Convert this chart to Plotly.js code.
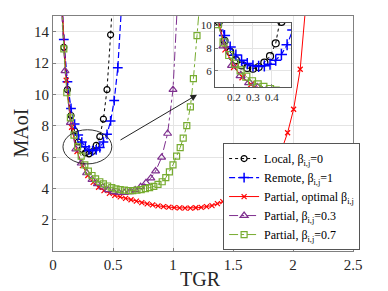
<!DOCTYPE html>
<html><head><meta charset="utf-8">
<script src="https://cdn.plot.ly/plotly-3.0.1.min.js"></script>
<style>html,body{margin:0;padding:0;background:#fff}#chart{width:388px;height:291px}</style>
</head><body><div id="chart"></div>
<script>
// Local, beta=0
const xLocal = [0.06, 0.09, 0.12, 0.15, 0.18, 0.21, 0.24, 0.27, 0.30, 0.33, 0.36, 0.39, 0.42, 0.45, 0.48, 0.51];
const yLocal = [18.5, 13.0, 10.3, 8.65, 7.67, 6.96, 6.49, 6.26, 6.2, 6.35, 6.74, 7.3, 8.42, 10.3, 13.8, 18.0];
// Remote, beta=1
const xRemote = [0.06, 0.09, 0.12, 0.15, 0.18, 0.21, 0.24, 0.27, 0.30, 0.33, 0.36, 0.39, 0.42, 0.45, 0.48, 0.51, 0.54, 0.57];
const yRemote = [19.0, 13.5, 10.8, 9.1, 8.1, 7.4, 6.95, 6.65, 6.45, 6.4, 6.45, 6.6, 6.95, 7.45, 8.3, 9.6, 11.7, 15.5];
// Partial, optimal beta
const xOpt = [0.07, 0.11, 0.155, 0.20, 0.245, 0.29, 0.335, 0.38, 0.425, 0.47, 0.515, 0.56, 0.605, 0.65, 0.695, 0.74, 0.785, 0.83, 0.875, 0.92, 0.965, 1.01, 1.055, 1.10, 1.145, 1.19, 1.235, 1.28, 1.325, 1.37, 1.415, 1.46, 1.505, 1.55, 1.595, 1.64, 1.685, 1.73, 1.775, 1.82, 1.86, 1.905, 1.955, 2.005, 2.06, 2.11];
const yOpt = [16.5, 10.9, 7.9, 6.35, 5.45, 4.82, 4.38, 4.07, 3.85, 3.68, 3.55, 3.45, 3.36, 3.27, 3.18, 3.09, 3.01, 2.94, 2.88, 2.83, 2.8, 2.77, 2.75, 2.74, 2.74, 2.76, 2.78, 2.83, 2.9, 3.02, 3.15, 3.3, 3.48, 3.7, 3.95, 4.22, 4.52, 4.87, 5.25, 5.6, 5.98, 6.45, 7.55, 9.05, 11.6, 16.0];
// Partial, beta=0.3
const xP3 = [0.055, 0.10, 0.145, 0.19, 0.235, 0.28, 0.325, 0.37, 0.415, 0.46, 0.505, 0.55, 0.595, 0.64, 0.685, 0.73, 0.775, 0.815, 0.855, 0.905, 0.955, 1.0, 1.045];
const yP3 = [17.5, 11.5, 8.2, 6.5, 5.6, 4.98, 4.55, 4.28, 4.07, 3.9, 3.78, 3.72, 3.72, 3.78, 3.9, 4.1, 4.35, 4.65, 5.1, 5.97, 7.5, 10.3, 17.0];
// Partial, beta=0.7
const xP7 = [0.06, 0.09, 0.115, 0.145, 0.175, 0.205, 0.235, 0.265, 0.295, 0.325, 0.355, 0.39, 0.42, 0.455, 0.49, 0.525, 0.56, 0.595, 0.63, 0.665, 0.70, 0.735, 0.77, 0.805, 0.84, 0.875, 0.91, 0.94, 0.97, 1.0, 1.03, 1.06, 1.085, 1.115, 1.145, 1.17, 1.20, 1.23];
const yP7 = [18.0, 12.9, 10.1, 8.5, 7.4, 6.65, 6.05, 5.5, 5.1, 4.82, 4.6, 4.42, 4.28, 4.15, 4.05, 3.97, 3.92, 3.88, 3.86, 3.86, 3.88, 3.92, 3.98, 4.05, 4.12, 4.25, 4.42, 4.68, 5.05, 5.5, 6.05, 6.6, 7.2, 8.0, 9.2, 11.0, 13.75, 16.5];

const names = ['Local, β<sub>i,j</sub>=0', 'Remote, β<sub>i,j</sub>=1', 'Partial, optimal β<sub>i,j</sub>', 'Partial, β<sub>i,j</sub>=0.3', 'Partial, β<sub>i,j</sub>=0.7'];
const xTicks = [0, 0.5, 1, 1.5, 2, 2.5];
const yTicks = [2, 4, 6, 8, 10, 12, 14];
const xTicksInset = [0.2, 0.3, 0.4];
const yTicksInset = [6, 8, 10];
const xTitle = 'TGR';
const yTitle = 'MAoI';

const SERIF = 'Liberation Serif';
const styles = [
  {x: xLocal, y: yLocal, line: {color: '#000000', dash: 'dot', width: 1}, marker: {symbol: 'circle-open', size: 6, color: '#000000', line: {width: 1.2}}},
  {x: xRemote, y: yRemote, line: {color: '#0000ff', dash: '6px,3px', width: 1.2}, marker: {symbol: 'cross-thin-open', size: 7, color: '#0000ff', line: {width: 1.5, color: '#0000ff'}}},
  {x: xOpt, y: yOpt, line: {color: '#ff0000', dash: 'solid', width: 1}, marker: {symbol: 'x-thin-open', size: 5, color: '#ff0000', line: {width: 1.2, color: '#ff0000'}}},
  {x: xP3, y: yP3, line: {color: '#7E2F8E', dash: 'dashdot', width: 1}, marker: {symbol: 'triangle-up-open', size: 7, color: '#7E2F8E', line: {width: 1.2}}},
  {x: xP7, y: yP7, line: {color: '#77AC30', dash: 'dashdot', width: 1}, marker: {symbol: 'square-open', size: 6, color: '#77AC30', line: {width: 1.2}}}
];
const data = [];
styles.forEach((s, i) => {
  data.push({type: 'scatter', mode: 'lines+markers', x: s.x, y: s.y, name: names[i], line: s.line, marker: s.marker, xaxis: 'x', yaxis: 'y'});
});
styles.forEach((s, i) => {
  data.push({type: 'scatter', mode: 'lines+markers', x: s.x, y: s.y, name: names[i], showlegend: false, line: s.line, marker: Object.assign({}, s.marker, {size: s.marker.size + 1}), xaxis: 'x2', yaxis: 'y2'});
});

const axCommon = {showline: true, mirror: true, linecolor: '#808080', linewidth: 1, ticks: 'inside', ticklen: 3, tickcolor: '#808080', zeroline: false, showgrid: true, gridcolor: '#e4e4e4', gridwidth: 1, automargin: false};
const layout = {
  width: 388, height: 291,
  margin: {l: 53, r: 35, t: 16, b: 40},
  paper_bgcolor: '#ffffff', plot_bgcolor: '#ffffff',
  font: {family: SERIF, size: 14, color: '#262626'},
  showlegend: true,
  xaxis: Object.assign({}, axCommon, {range: [0, 2.5], tickvals: xTicks, tickfont: {family: SERIF, size: 15, color: '#262626'}}),
  yaxis: Object.assign({}, axCommon, {range: [0, 15], tickvals: yTicks, tickfont: {family: SERIF, size: 15, color: '#262626'}}),
  xaxis2: Object.assign({}, axCommon, {domain: [0.54, 0.793], anchor: 'y2', range: [0.1, 0.5], tickvals: xTicksInset, linecolor: '#555555', tickfont: {family: SERIF, size: 11, color: '#262626'}}),
  yaxis2: Object.assign({}, axCommon, {domain: [0.698, 0.970], anchor: 'x2', range: [4.6, 10.2], tickvals: yTicksInset, linecolor: '#555555', tickfont: {family: SERIF, size: 11, color: '#262626'}}),
  legend: {x: 0.567, y: 0.004, xanchor: 'left', yanchor: 'bottom', bgcolor: '#ffffff', bordercolor: '#555555', borderwidth: 1, font: {family: SERIF, size: 12, color: '#000000'}, tracegroupgap: 0, itemwidth: 30},
  shapes: [
    {type: 'rect', xref: 'x2 domain', yref: 'y2 domain', x0: 0, x1: 1, y0: 0, y1: 1, fillcolor: '#ffffff', line: {width: 0}, layer: 'below'},
    {type: 'circle', xref: 'x', yref: 'y', x0: 0.083, x1: 0.49, y0: 5.56, y1: 7.74, line: {color: '#333333', width: 1}, layer: 'above'}
  ],
  annotations: [
    {x: 1.2, y: 9.97, xref: 'x', yref: 'y', ax: 0.55, ay: 7.03, axref: 'x', ayref: 'y', text: '', showarrow: true, arrowhead: 2, arrowsize: 1.3, arrowwidth: 1, arrowcolor: '#222222'},
    {text: xTitle, xref: 'paper', yref: 'paper', x: 0.49, y: -0.12, xanchor: 'center', yanchor: 'middle', showarrow: false, font: {family: SERIF, size: 20, color: '#262626'}},
    {text: yTitle, xref: 'paper', yref: 'paper', x: -0.11, y: 0.5, xanchor: 'center', yanchor: 'middle', textangle: -90, showarrow: false, font: {family: SERIF, size: 20, color: '#262626'}}
  ]
};
Plotly.newPlot('chart', data, layout, {displayModeBar: false, staticPlot: true});
</script></body></html>
